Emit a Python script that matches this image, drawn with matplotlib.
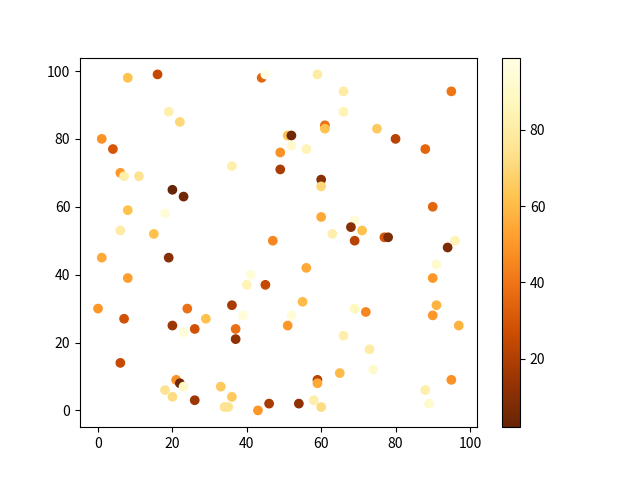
#!/usr/bin/env python
# -*- coding: utf-8 -*-
"""Scatter of random points coloured by a third value, YlOrBr_r colormap."""

import matplotlib
matplotlib.use('Agg')
import matplotlib.pyplot as plt

plt.rcParams['font.family'] = ['Noto Sans CJK SC', 'DejaVu Sans']

# values
x = [8, 16, 44, 45, 19, 22, 1, 4, 49, 49, 6, 7, 11, 36, 20, 23, 8, 18, 6, 15, 47,
     59, 66, 95, 66, 61, 61, 75, 51, 52, 52, 56, 80, 88, 60, 60, 90, 60, 69, 68,
     71, 63, 69, 77, 78, 96, 94,
     1, 19, 8, 41, 40, 45, 0, 7, 24, 29, 36, 39, 20, 26, 23, 37, 37, 6, 21, 22,
     23, 18, 20, 26, 33, 36, 34, 35, 43, 46,
     56, 91, 90, 55, 52, 51, 69, 72, 91, 90, 97, 66, 73, 74, 65, 59, 59, 54, 58,
     60, 95, 88, 89]
y = [98, 99, 98, 99, 88, 85, 80, 77, 76, 71, 70, 69, 69, 72, 65, 63, 59, 58, 53,
     52, 50,
     99, 94, 94, 88, 84, 83, 83, 81, 81, 78, 77, 80, 77, 68, 66, 60, 57, 56, 54,
     53, 52, 50, 51, 51, 50, 48,
     45, 45, 39, 40, 37, 37, 30, 27, 30, 27, 31, 28, 25, 24, 23, 24, 21, 14, 9,
     8, 7, 6, 4, 3, 7, 4, 1, 1, 0, 2,
     42, 43, 39, 32, 28, 25, 30, 29, 31, 28, 25, 22, 18, 12, 11, 9, 8, 2, 3, 1,
     9, 6, 2]
c = [62, 25, 35, 99, 82, 70, 48, 30, 48, 18, 50, 82, 75, 82, 2, 5, 62, 95, 80,
     62, 45,
     80, 80, 40, 85, 38, 62, 65, 62, 5, 92, 85, 22, 35, 10, 70, 35, 55, 95, 10,
     62, 82, 22, 30, 8, 85, 8,
     55, 10, 52, 95, 85, 25, 50, 28, 38, 62, 18, 95, 15, 28, 95, 38, 12, 25, 48,
     5, 90, 75, 72, 15, 65, 65, 75, 75, 50, 18,
     55, 92, 50, 60, 95, 50, 88, 45, 58, 50, 58, 82, 80, 92, 60, 22, 55, 12, 82,
     72, 48, 82, 92]

fig, ax = plt.subplots(figsize=(6.4, 4.8), dpi=100)
sc = ax.scatter(x, y, c=c, cmap='YlOrBr_r')
fig.colorbar(sc, ax=ax)

fig.savefig('out.png')
